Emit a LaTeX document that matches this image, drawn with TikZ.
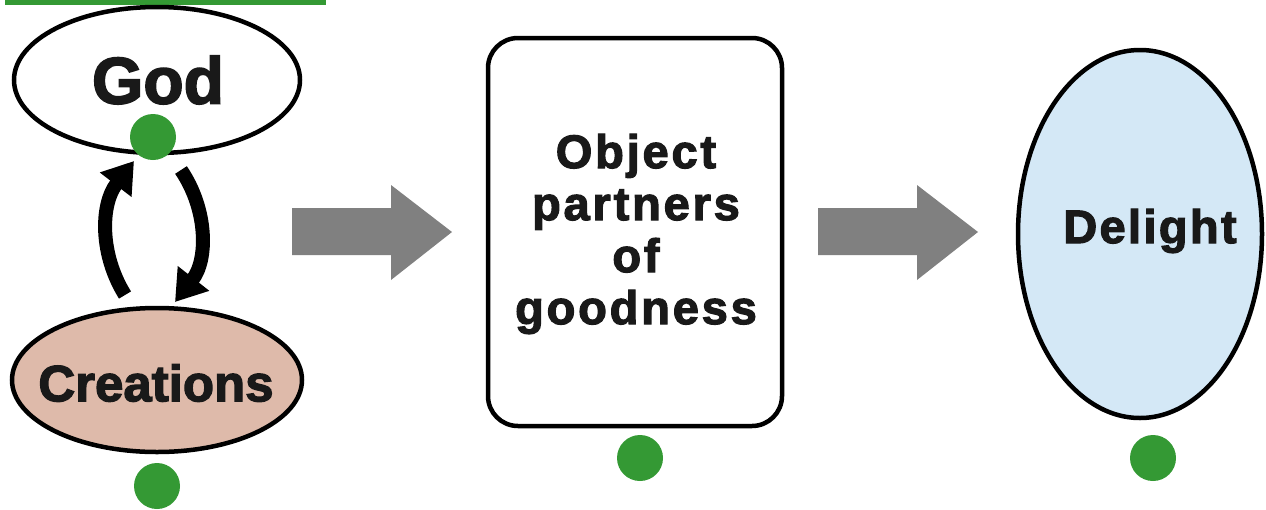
\documentclass[tikz,border=0pt]{standalone}
\usepackage{fontspec}
\usetikzlibrary{arrows.meta,shapes.geometric}
\newfontfamily\heavy[FakeBold=2.5]{Liberation Sans}
\definecolor{dotgreen}{RGB}{52,153,52}
\definecolor{creafill}{RGB}{222,186,170}
\definecolor{delfill}{RGB}{212,232,246}
\definecolor{blockgray}{RGB}{128,128,128}
\tikzset{
  oval/.style={ellipse, draw=black, line width=4.5pt, inner sep=0pt},
  lbl/.style={font=\heavy\bfseries, text=black!90, align=center},
  gdot/.style={circle, fill=dotgreen, minimum size=46pt, inner sep=0pt},
  cycarrow/.style={line width=14pt, -{Triangle[width=38pt,length=30pt]}},
  blockarrow/.style={fill=blockgray, draw=none}
}
\begin{document}
\begin{tikzpicture}[x=1pt,y=-1pt]
\useasboundingbox (0,0) rectangle (1266,509);
% top green bar
\fill[dotgreen] (5,-1) rectangle (326,5);
% God
\node[oval, minimum width=286pt, minimum height=146pt] (god) at (157,80) {};
\node[lbl, font=\heavy\bfseries\fontsize{66}{66}\selectfont] (godtxt) at (158,80) {God};
% Creations
\node[oval, fill=creafill, minimum width=290pt, minimum height=144pt] (crea) at (157,380) {};
\node[lbl, font=\heavy\bfseries\fontsize{51}{51}\selectfont] (creatxt) at (156,383) {Creations};
% cycle arrows
\coordinate (upstart) at (125,295);
\coordinate (upend) at (134,161);
\coordinate (downstart) at (181,170);
\coordinate (downend) at (175,302);
\draw[cycarrow] (upstart) .. controls (100,255) and (100,205) .. (upend);
\draw[cycarrow] (downstart) .. controls (208,210) and (208,260) .. (downend);
% green dots
\node[gdot] (d1) at (153,137) {};
\node[gdot] (d2) at (157,486) {};
% block arrow 1
\fill[blockgray] (292,208) -- (391,208) -- (391,185) -- (452,232) -- (391,280) -- (391,255) -- (292,255) -- cycle;
% Object box
\node[draw=black, line width=4.5pt, rounded corners=30pt, minimum width=294pt, minimum height=388pt, inner sep=0pt] (obj) at (635,232) {};
\node[lbl, font=\heavy\bfseries\fontsize{47}{52}\selectfont\addfontfeatures{LetterSpace=6}] (objtxt) at (636,234) {Object\\partners\\of\\goodness};
\node[gdot] (d3) at (640,458) {};
% block arrow 2
\fill[blockgray] (818,208) -- (917,208) -- (917,185) -- (978,232) -- (917,280) -- (917,255) -- (818,255) -- cycle;
% Delight
\node[oval, fill=delfill, minimum width=244pt, minimum height=368pt] (del) at (1140,234) {};
\node[lbl, font=\heavy\bfseries\fontsize{47}{47}\selectfont\addfontfeatures{LetterSpace=5}] (deltxt) at (1150,231) {Delight};
\node[gdot] (d4) at (1153,458) {};
\end{tikzpicture}
\end{document}
